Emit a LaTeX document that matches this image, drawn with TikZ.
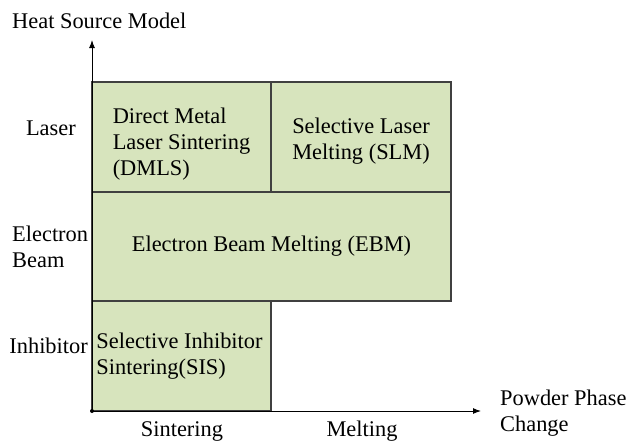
\documentclass[tikz,border=0pt]{standalone}
\usepackage{fontspec}
\setmainfont{Liberation Serif}
\usetikzlibrary{arrows.meta}
\definecolor{cellgreen}{RGB}{215,228,189}
\definecolor{cellline}{RGB}{64,64,64}
% grid lines of the chart (pt, y grows downwards)
\newcommand{\colL}{92}
\newcommand{\colM}{271}
\newcommand{\colR}{451}
\newcommand{\rowA}{82}
\newcommand{\rowB}{192}
\newcommand{\rowC}{301}
\newcommand{\rowD}{411}

\tikzset{
  cell/.style={draw=cellline, fill=cellgreen, line width=1.2pt, inner sep=0pt},
  lbl/.style={inner sep=0pt, align=left},
}

\begin{document}
\begin{tikzpicture}[x=1pt, y=-1pt, font=\fontsize{22.4}{26}\selectfont,
                    >={Latex[length=8pt,width=6pt]}]
        \useasboundingbox (0,0) rectangle (631,442);

        % Process cells
        \node[cell, minimum width=179pt, minimum height=110pt] (dmls) at (181.5,137) {};
        \node[cell, minimum width=180pt, minimum height=110pt] (slm) at (361,137) {};
        \node[cell, minimum width=359pt, minimum height=109pt] (ebm) at (271.5,246.5) {};
        \node[cell, minimum width=179pt, minimum height=110pt] (sis) at (181.5,356) {};

        \node[lbl] (dmlsText) at ([yshift=-7pt]dmls.center) {Direct Metal\\Laser Sintering\\(DMLS)};
        \node[lbl] (slmText) at ([yshift=-4pt]slm.center) {Selective Laser\\Melting (SLM)};
        \node[lbl] (ebmText) at (ebm.center) {Electron Beam Melting (EBM)};
        \node[lbl] (sisText) at ([xshift=-2pt]sis.center) {Selective Inhibitor\\Sintering(SIS)};

        % Draw the x and y axes
        \coordinate (origin) at (\colL,\rowD);
        \coordinate (ytip) at (\colL,40);
        \coordinate (xtip) at (481,\rowD);
        \draw[->, line width=1pt] (origin) -- (ytip);
        \draw[->, line width=1pt] (origin) -- (xtip);
        \fill (origin) circle (2pt);

        % Axis titles
        \node[lbl, anchor=base west] (heat) at (12,28) {Heat Source Model};
        \node[lbl, anchor=north west] (powder) at (500,389.7) {Powder Phase\\Change};

        % Heat source categories
        \node[lbl, anchor=base east] (laser) at (76,135) {Laser};
        \node[lbl, anchor=north west] (ebeam) at (12,225.7) {Electron\\Beam};
        \node[lbl, anchor=base east] (inhib) at (88,353) {Inhibitor};

        % Phase change categories
        \node[lbl, anchor=base] (sinter) at (182,436) {Sintering};
        \node[lbl, anchor=base] (melt) at (362,436) {Melting};
    \end{tikzpicture}
\end{document}
